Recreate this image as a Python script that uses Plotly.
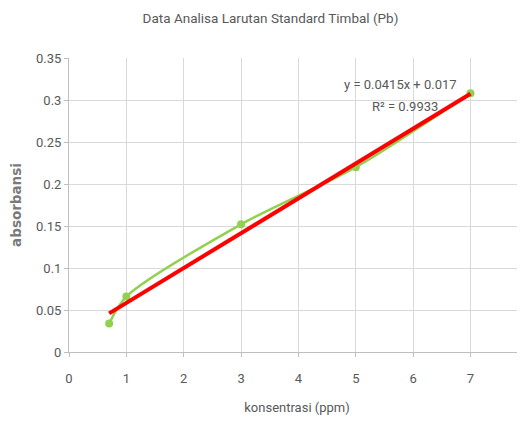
import plotly.graph_objects as go

konsentrasi = [0.7, 1, 3, 5, 7]
absorbansi = [0.034, 0.066, 0.152, 0.220, 0.308]
trend_x = [0.7, 7]
trend_y = [0.046, 0.3075]
x_ticks = [0, 1, 2, 3, 4, 5, 6, 7]
y_ticks = [0, 0.05, 0.1, 0.15, 0.2, 0.25, 0.3, 0.35]
y_tick_labels = ["0", "0.05", "0.1", "0.15", "0.2", "0.25", "0.3", "0.35"]

FONT = "Roboto, Liberation Sans Narrow, sans-serif"
GRAY = "#595959"

fig = go.Figure()
fig.add_trace(go.Scatter(
    x=konsentrasi, y=absorbansi, mode="lines+markers",
    line=dict(color="#92d050", width=2.5, shape="spline", smoothing=0.8),
    marker=dict(color="#92d050", size=8),
    showlegend=False,
))
fig.add_trace(go.Scatter(
    x=trend_x, y=trend_y, mode="lines",
    line=dict(color="#ff0000", width=4),
    showlegend=False,
))

fig.add_annotation(x=5.78, y=0.318, xref="x", yref="y", text="y = 0.0415x + 0.017",
                   showarrow=False, font=dict(family=FONT, size=13, color=GRAY))
fig.add_annotation(x=5.85, y=0.2917, xref="x", yref="y", text="R² = 0.9933",
                   showarrow=False, font=dict(family=FONT, size=13, color=GRAY))

fig.update_layout(
    width=525, height=421,
    margin=dict(l=61, r=8, t=50, b=77),
    paper_bgcolor="white", plot_bgcolor="white",
    font=dict(family=FONT, size=13, color=GRAY),
    title=dict(text="Data Analisa Larutan Standard Timbal (Pb)", x=0.5, xanchor="center",
               y=0.976, yanchor="middle", font=dict(family=FONT, size=13.5, color=GRAY)),
    xaxis=dict(range=[0, 7.95], tickvals=x_ticks, showgrid=True, gridcolor="#d9d9d9",
               gridwidth=1, zeroline=False, showline=True, linecolor="#bfbfbf",
               ticks="outside", ticklen=4, tickcolor="#bfbfbf", ticklabelstandoff=10,
               automargin=False,
               title=dict(text="konsentrasi (ppm)", standoff=18,
                          font=dict(family=FONT, size=13, color=GRAY)),
               tickfont=dict(family=FONT, size=13, color=GRAY)),
    yaxis=dict(range=[0, 0.35], tickvals=y_ticks, ticktext=y_tick_labels, showgrid=True,
               gridcolor="#d9d9d9", gridwidth=1, zeroline=False, showline=True,
               linecolor="#bfbfbf", ticks="outside", ticklen=4, tickcolor="#bfbfbf",
               automargin=False,
               title=dict(text="<b>absorbansi</b>", standoff=14,
                          font=dict(family="DejaVu Sans, sans-serif", size=13.5, color="#7a7a7a")),
               tickfont=dict(family=FONT, size=13, color=GRAY)),
)

fig.write_html("out.html")
